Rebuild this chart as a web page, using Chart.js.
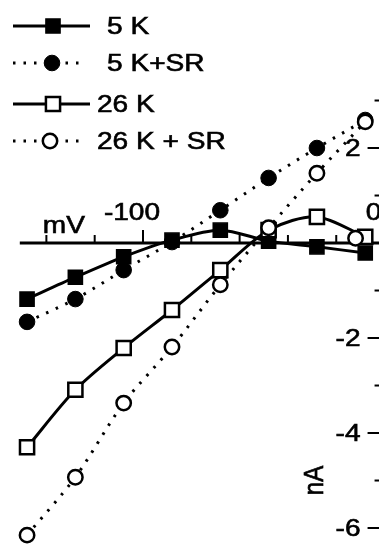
<!DOCTYPE html>
<html>
<head>
<meta charset="utf-8">
<script src="https://cdn.jsdelivr.net/npm/chart.js@4.4.1/dist/chart.umd.min.js"></script>
<style>
  html, body { margin: 0; padding: 0; background: #fff; overflow: hidden; }
  #wrap { width: 379px; height: 556px; }
</style>
</head>
<body>
<div id="wrap"><canvas id="ivChart" width="379" height="556"></canvas></div>
<script>
// DATA
const voltages = [-148, -128, -108, -88, -68, -48, -28, -8];
const k5 = [-1.18, -0.72, -0.29, 0.06, 0.27, 0.04, -0.08, -0.21];
const k5SR = [-1.66, -1.18, -0.57, 0.02, 0.69, 1.37, 2.0, 2.59];
const k26 = [-4.3, -3.09, -2.21, -1.41, -0.57, 0.27, 0.55, 0.13];
const k26SR = [-6.15, -4.93, -3.37, -2.19, -0.88, 0.32, 1.47, 2.55];
const strayVoltage = [-12];
const strayCurrent = [0.1];
const seriesLabels = ['5 K', '5 K+SR', '26 K', '26 K + SR'];

// AXIS TICKS
const xTickValues = [-140, -120, -100, -80, -60, -40, -20, 0];
const xTickLabels = ['', '', '-100', '', '', '', '', '0'];
const xUnit = 'mV';
const yTickValues = [-7, -6, -5, -4, -3, -2, -1, 1, 2, 3];
const yTickLabels = ['', '-6', '', '-4', '', '-2', '', '', '2', ''];
const yUnit = 'nA';

const FONT = '24px "Liberation Sans", Arial, sans-serif';
const STRETCH = 1.17;

const pts = (xs, ys) => xs.map((x, i) => ({ x: x, y: ys[i] }));

function drawText(ctx, text, x, y, align, baseline) {
    ctx.save();
    ctx.translate(x, y);
    ctx.scale(STRETCH, 1);
    ctx.font = FONT;
    ctx.fillStyle = '#000';
    ctx.strokeStyle = '#000';
    ctx.lineWidth = 0.6;
    ctx.textAlign = align;
    ctx.textBaseline = baseline;
    ctx.fillText(text, 0, 0);
    ctx.strokeText(text, 0, 0);
    ctx.restore();
}

// crossing axes, drawn from the chart's own scales
const crossAxes = {
    id: 'crossAxes',
    beforeDatasetsDraw(chart) {
        const ctx = chart.ctx;
        const xs = chart.scales.x, ys = chart.scales.y;
        const y0 = ys.getPixelForValue(0);
        const x0 = xs.getPixelForValue(0);
        ctx.save();
        ctx.strokeStyle = '#000';
        ctx.lineCap = 'butt';
        // x axis
        ctx.lineWidth = 3;
        ctx.beginPath();
        ctx.moveTo(xs.getPixelForValue(-151), y0);
        ctx.lineTo(x0, y0);
        ctx.stroke();
        ctx.lineWidth = 2;
        xTickValues.forEach((v, i) => {
            const px = xs.getPixelForValue(v);
            const len = xTickLabels[i] ? 13 : 8;
            ctx.beginPath();
            ctx.moveTo(px, y0);
            ctx.lineTo(px, y0 - len);
            ctx.stroke();
            if (xTickLabels[i]) drawText(ctx, xTickLabels[i], px - 11, y0 - 23, 'center', 'alphabetic');
        });
        drawText(ctx, xUnit, xs.getPixelForValue(-141.5), y0 - 10, 'left', 'alphabetic');
        // y axis
        ctx.lineWidth = 3;
        ctx.beginPath();
        ctx.moveTo(x0, ys.getPixelForValue(-7));
        ctx.lineTo(x0, ys.getPixelForValue(3));
        ctx.stroke();
        ctx.lineWidth = 2;
        yTickValues.forEach((v, i) => {
            const py = ys.getPixelForValue(v);
            const len = yTickLabels[i] ? 17 : 10;
            ctx.beginPath();
            ctx.moveTo(x0, py);
            ctx.lineTo(x0 - len, py);
            ctx.stroke();
            if (yTickLabels[i]) drawText(ctx, yTickLabels[i], x0 - 24, py + 1, 'right', 'middle');
        });
        // rotated unit
        ctx.save();
        ctx.translate(xs.getPixelForValue(-28.5), ys.getPixelForValue(-5));
        ctx.scale(STRETCH, 1);
        ctx.rotate(-Math.PI / 2);
        ctx.font = FONT;
        ctx.fillStyle = '#000';
        ctx.strokeStyle = '#000';
        ctx.lineWidth = 0.6;
        ctx.textAlign = 'center';
        ctx.textBaseline = 'middle';
        ctx.fillText(yUnit, 0, 0);
        ctx.strokeText(yUnit, 0, 0);
        ctx.restore();
        ctx.restore();
    }
};

// stacked legend: line + marker + label
const sideLegend = {
    id: 'sideLegend',
    afterDraw(chart) {
        const ctx = chart.ctx;
        const rows = [
            { y: 26, x1: 13, x2: 90, mx: 53, tx: 107 },
            { y: 63, x1: 13, x2: 86, mx: 52, tx: 107 },
            { y: 104, x1: 13, x2: 90, mx: 53, tx: 97 },
            { y: 141, x1: 13, x2: 86, mx: 50, tx: 97 }
        ];
        rows.forEach((r, i) => {
            const ds = chart.data.datasets[i];
            ctx.save();
            ctx.strokeStyle = '#000';
            ctx.lineWidth = ds.borderWidth;
            ctx.setLineDash(ds.borderDash || []);
            ctx.lineCap = ds.borderCapStyle || 'butt';
            ctx.beginPath();
            ctx.moveTo(r.x1, r.y);
            ctx.lineTo(r.x2, r.y);
            ctx.stroke();
            ctx.setLineDash([]);
            ctx.fillStyle = ds.pointBackgroundColor;
            ctx.strokeStyle = ds.pointBorderColor;
            ctx.lineWidth = ds.pointBorderWidth;
            Chart.helpers.drawPoint(ctx, {
                pointStyle: ds.pointStyle,
                radius: ds.pointRadius,
                borderWidth: ds.pointBorderWidth,
                rotation: 0
            }, r.mx, r.y);
            ctx.restore();
            drawText(ctx, seriesLabels[i], r.tx, r.y + 1, 'left', 'middle');
        });
    }
};

const solid = { borderColor: '#000', borderWidth: 3, tension: 0.3, pointBorderColor: '#000' };
const dotted = { borderColor: '#000', borderWidth: 3, borderDash: [2.5, 8], borderCapStyle: 'butt', tension: 0.3, pointBorderColor: '#000' };

const ivChart = new Chart(document.getElementById('ivChart'), {
    type: 'line',
    data: {
        datasets: [
            Object.assign({
                label: seriesLabels[0], data: pts(voltages, k5), order: 2,
                pointStyle: 'rect', pointRadius: 10, pointBorderWidth: 1.5, pointBackgroundColor: '#000'
            }, solid),
            Object.assign({
                label: seriesLabels[1], data: pts(voltages, k5SR), order: 3,
                pointStyle: 'circle', pointRadius: 7.8, pointBorderWidth: 1, pointBackgroundColor: '#000'
            }, dotted),
            Object.assign({
                label: seriesLabels[2], data: pts(voltages, k26), order: 1,
                pointStyle: 'rect', pointRadius: 10, pointBorderWidth: 2.5, pointBackgroundColor: '#fff'
            }, solid),
            Object.assign({
                label: seriesLabels[3], data: pts(voltages, k26SR), order: 0,
                pointStyle: 'circle', pointRadius: 7.2, pointBorderWidth: 2.5, pointBackgroundColor: '#fff'
            }, dotted),
            {
                label: '', data: pts(strayVoltage, strayCurrent), order: 0, showLine: false,
                pointStyle: 'circle', pointRadius: 7.2, pointBorderWidth: 2.5,
                pointBackgroundColor: '#fff', pointBorderColor: '#000'
            }
        ]
    },
    options: {
        responsive: false,
        animation: false,
        devicePixelRatio: 1,
        layout: { padding: 0, autoPadding: false },
        scales: {
            x: { type: 'linear', min: -159.2, max: -2.3, display: false },
            y: { type: 'linear', min: -6.589, max: 5.116, display: false }
        },
        plugins: {
            legend: { display: false },
            tooltip: { enabled: false }
        }
    },
    plugins: [crossAxes, sideLegend]
});
</script>
</body>
</html>
